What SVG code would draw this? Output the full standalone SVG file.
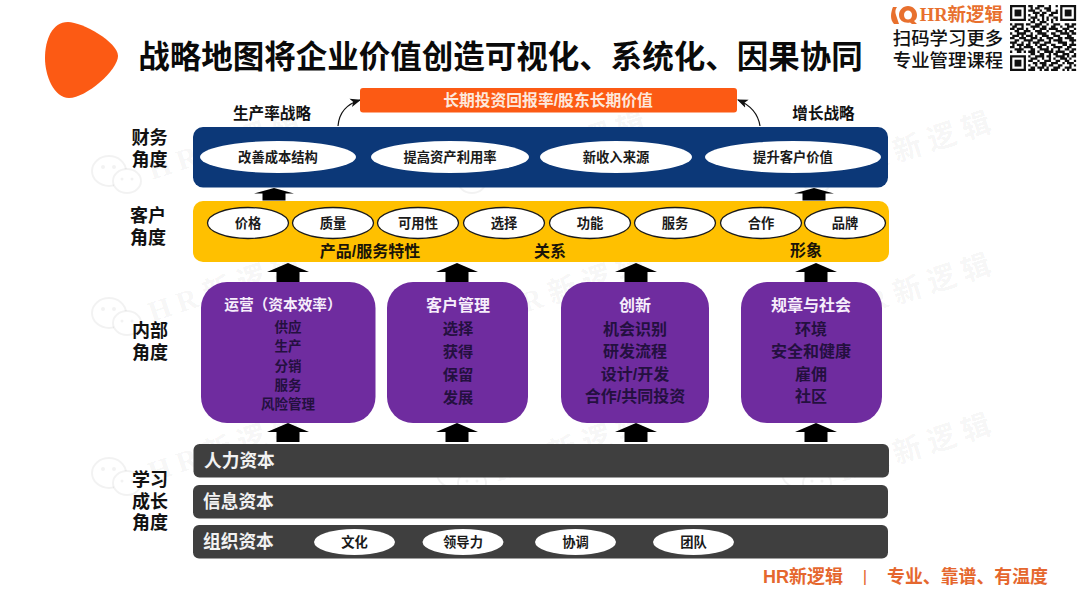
<svg xmlns="http://www.w3.org/2000/svg" xmlns:xlink="http://www.w3.org/1999/xlink" width="1080" height="608" viewBox="0 0 1080 608">
<style>
text{font-family:"Liberation Sans","Noto Sans CJK SC",sans-serif;font-weight:700;text-anchor:middle;dominant-baseline:central}
.lab{font-size:18px;fill:#111}
.pill{font-size:13.300px;fill:#1a1a1a}
.yl{font-size:16px;fill:#1a1408}
.hd{font-size:16px;fill:#f6eefb}
.r1{font-size:13.500px;fill:#24103f}
.r2{font-size:16px;fill:#24103f}
.gb{font-size:17.700px;fill:#f2f2f2;text-anchor:start}
.wm{font-family:"Liberation Serif","Noto Sans CJK SC",serif;font-size:29px;letter-spacing:7px;fill:#000;fill-opacity:.05;text-anchor:start;dominant-baseline:auto}
.pp{fill:#6f2c9f}
.gr{fill:#3f3f3f}
.we{fill:#fff;stroke:#000;stroke-opacity:.05;stroke-width:2}
.ey{fill:#000;fill-opacity:.05}
</style>
<defs>
<g id="wmk">
<ellipse class="we" cx="-43" cy="-9" rx="17" ry="15"/>
<ellipse class="we" cx="-25" cy="1" rx="14" ry="12"/>
<circle class="ey" cx="-49" cy="-13" r="2"/><circle class="ey" cx="-38" cy="-13" r="2"/><circle class="ey" cx="-30" cy="-1" r="1.500"/><circle class="ey" cx="-20" cy="-1" r="1.500"/>
<text class="wm" transform="rotate(-18)">HR新逻辑</text>
</g>
<path id="up-s" d="M0 0L20 5.500H11.500V12.500H-11.500V5.500H-20Z" fill="#000"/>
<path id="up-l" d="M0 0L21 9H11.500V19H-11.500V9H-21Z" fill="#000"/>
<marker id="ah" viewBox="0 0 10 10" refX="9" refY="5" markerWidth="9" markerHeight="9" orient="auto"><path d="M0 1L10 5L0 9L2.500 5Z" fill="#111"/></marker>
<g id="fp"><path d="M0 0h7v7h-7zM1 1v5h5v-5z" fill-rule="evenodd"/><rect x="2" y="2" width="3" height="3"/></g>
</defs>
<rect width="1080" height="608" fill="#fff"/>
<g id="watermarks">
<use xlink:href="#wmk" x="152" y="180"/><use xlink:href="#wmk" x="497" y="180"/><use xlink:href="#wmk" x="842" y="180"/>
<use xlink:href="#wmk" x="152" y="322"/><use xlink:href="#wmk" x="497" y="322"/><use xlink:href="#wmk" x="842" y="322"/>
<use xlink:href="#wmk" x="152" y="482"/><use xlink:href="#wmk" x="497" y="482"/><use xlink:href="#wmk" x="842" y="482"/>
</g>
<g id="title-block">
<path d="M68 22C82 22 118 42 118 56C118 70 86 98 69 98C54 98 45 76 45 58C45 40 52 22 68 22Z" fill="#fc5a14"/>
<text x="500.500" y="57" style="font-size:31.500px;fill:#0a0a0a">战略地图将企业价值创造可视化、系统化、因果协同</text>
</g>
<g id="header-right">
<path d="M893 7h4c-2 3-2 5-1 8 1 3 2 6 3 9h-5c-2-2-3-5-3-8s1-7 2-9zM899 15c0-5 4-9 9-9s9 4 9 9c0 3-1 5-3 6l3 3h-5l-2-1.500c-6 1-11-2-11-7.500zm5 0c0 3 2 4.500 4 4.500s4-1.500 4-4.500-2-4.500-4-4.500-4 1.500-4 4.500z" fill="#e8702e" fill-rule="evenodd"/>
<text x="961.500" y="15" style="font-family:'Liberation Serif','Noto Sans CJK SC',serif;font-size:18.500px;fill:#e8702e">HR新逻辑</text>
<text x="948" y="38" style="font-size:18.400px;fill:#111;font-weight:500">扫码学习更多</text>
<text x="948" y="60" style="font-size:18.400px;fill:#111;font-weight:500">专业管理课程</text>
<g id="qr" transform="translate(1010 5) scale(2.280)" fill="#111">
<use xlink:href="#fp"/><use xlink:href="#fp" x="22"/><use xlink:href="#fp" y="22"/>
<path stroke="#111" stroke-width="1" fill="none" d="M8 .5h2M12 .5h3M17 .5h1M20 .5h1M9 1.500h1M11 1.500h2M15 1.500h3M8 2.500h3M13 2.500h1M16 2.500h2M20 2.500h1M10 3.500h3M14 3.500h2M18 3.500h3M8 4.500h1M11 4.500h1M13 4.500h2M17 4.500h2M9 5.500h3M14 5.500h1M16 5.500h1M19 5.500h2M8 6.500h1M10 6.500h1M12 6.500h1M14 6.500h1M16 6.500h1M18 6.500h1M20 6.500h1M9 7.500h2M13 7.500h3M18 7.500h1M0 8.500h1M2 8.500h4M7 8.500h2M11 8.500h3M16 8.500h1M19 8.500h3M24 8.500h2M27 8.500h2M1 9.500h2M5 9.500h1M9 9.500h4M14 9.500h2M18 9.500h2M22 9.500h1M25 9.500h3M0 10.500h2M3 10.500h3M7 10.500h1M10 10.500h1M13 10.500h3M17 10.500h4M23 10.500h3M28 10.500h1M2 11.500h2M6 11.500h3M11 11.500h3M16 11.500h1M20 11.500h3M24 11.500h1M26 11.500h2M0 12.500h1M3 12.500h4M9 12.500h1M12 12.500h4M18 12.500h2M22 12.500h4M27 12.500h2M1 13.500h3M5 13.500h1M7 13.500h3M11 13.500h1M14 13.500h3M19 13.500h3M25 13.500h2M0 14.500h2M4 14.500h3M9 14.500h3M13 14.500h1M16 14.500h3M21 14.500h2M24 14.500h4M2 15.500h2M6 15.500h4M12 15.500h3M17 15.500h1M19 15.500h4M26 15.500h3M0 16.500h3M5 16.500h1M8 16.500h1M10 16.500h3M15 16.500h3M21 16.500h4M27 16.500h1M1 17.500h1M3 17.500h3M7 17.500h2M11 17.500h1M13 17.500h3M18 17.500h2M23 17.500h2M26 17.500h3M0 18.500h2M4 18.500h1M6 18.500h4M12 18.500h2M16 18.500h1M19 18.500h4M25 18.500h2M2 19.500h4M9 19.500h2M13 19.500h4M18 19.500h1M21 19.500h1M24 19.500h2M27 19.500h2M0 20.500h1M3 20.500h2M6 20.500h1M8 20.500h3M12 20.500h1M15 20.500h4M20 20.500h4M26 20.500h2M9 21.500h2M13 21.500h2M17 21.500h1M19 21.500h2M23 21.500h3M28 21.500h1M8 22.500h1M11 22.500h4M16 22.500h2M20 22.500h4M25 22.500h1M27 22.500h2M9 23.500h3M14 23.500h1M17 23.500h1M19 23.500h1M22 23.500h3M26 23.500h1M8 24.500h2M12 24.500h1M15 24.500h3M20 24.500h2M24 24.500h2M28 24.500h1M10 25.500h2M13 25.500h3M18 25.500h3M23 25.500h1M25 25.500h3M8 26.500h1M11 26.500h1M14 26.500h2M17 26.500h2M21 26.500h2M26 26.500h1M28 26.500h1M9 27.500h2M12 27.500h3M16 27.500h1M19 27.500h3M24 27.500h3M8 28.500h3M13 28.500h1M15 28.500h2M18 28.500h3M23 28.500h1M25 28.500h1M27 28.500h2"/>
</g>
</g>
<g id="side-labels">
<text class="lab" x="149.500" y="138">财务</text><text class="lab" x="149.500" y="160">角度</text>
<text class="lab" x="148" y="216">客户</text><text class="lab" x="148" y="238">角度</text>
<text class="lab" x="150" y="331">内部</text><text class="lab" x="150" y="353">角度</text>
<text class="lab" x="150" y="480">学习</text><text class="lab" x="150" y="502">成长</text><text class="lab" x="150" y="523">角度</text>
<text x="272" y="113" style="font-size:15.600px;fill:#111">生产率战略</text>
<text x="823.500" y="113" style="font-size:15.600px;fill:#111">增长战略</text>
</g>
<g id="connectors">
<path d="M338 126C339 113 347 104 360 100" fill="none" stroke="#111" stroke-width="1.200" marker-end="url(#ah)"/>
<path d="M760 126C758 113 750 105 738 100" fill="none" stroke="#111" stroke-width="1.200" marker-end="url(#ah)"/>
<use xlink:href="#up-s" x="274" y="188"/><use xlink:href="#up-s" x="814" y="188"/>
<use xlink:href="#up-l" x="288" y="263"/><use xlink:href="#up-l" x="457" y="263"/><use xlink:href="#up-l" x="636" y="263"/><use xlink:href="#up-l" x="816" y="263"/>
<use xlink:href="#up-l" x="288" y="423"/><use xlink:href="#up-l" x="457" y="423"/><use xlink:href="#up-l" x="636" y="423"/><use xlink:href="#up-l" x="816" y="423"/>
</g>
<g id="goal">
<rect x="360" y="88" width="377" height="24.500" rx="3" fill="#fc5a14"/>
<text x="548" y="100.500" style="font-size:15.800px;fill:#fde8dc">长期投资回报率/股东长期价值</text>
</g>
<g id="financial">
<rect x="193" y="127" width="695" height="60.500" rx="10" fill="#0c3878"/>
<ellipse cx="278" cy="157" rx="78" ry="16" fill="#fff"/><text class="pill" x="278" y="157">改善成本结构</text>
<ellipse cx="450" cy="157" rx="79" ry="16" fill="#fff"/><text class="pill" x="450" y="157">提高资产利用率</text>
<ellipse cx="616" cy="157" rx="76" ry="16" fill="#fff"/><text class="pill" x="616" y="157">新收入来源</text>
<ellipse cx="793" cy="157" rx="88" ry="16" fill="#fff"/><text class="pill" x="793" y="157">提升客户价值</text>
</g>
<g id="customer">
<rect x="193" y="201" width="696" height="61" rx="10" fill="#ffc000"/>
<g fill="#fff" stroke="#1a1a1a" stroke-width="1.300">
<ellipse cx="248" cy="223" rx="40.500" ry="15.500"/><ellipse cx="333" cy="223" rx="40.500" ry="15.500"/><ellipse cx="418" cy="223" rx="40.500" ry="15.500"/><ellipse cx="504" cy="223" rx="40.500" ry="15.500"/><ellipse cx="590" cy="223" rx="40.500" ry="15.500"/><ellipse cx="675" cy="223" rx="40.500" ry="15.500"/><ellipse cx="761" cy="223" rx="40.500" ry="15.500"/><ellipse cx="845" cy="223" rx="40.500" ry="15.500"/>
</g>
<text class="pill" x="248" y="223">价格</text><text class="pill" x="333" y="223">质量</text><text class="pill" x="418" y="223">可用性</text><text class="pill" x="504" y="223">选择</text><text class="pill" x="590" y="223">功能</text><text class="pill" x="675" y="223">服务</text><text class="pill" x="761" y="223">合作</text><text class="pill" x="845" y="223">品牌</text>
<text class="yl" x="370" y="251">产品/服务特性</text><text class="yl" x="550" y="251">关系</text><text class="yl" x="806" y="250">形象</text>
</g>
<g id="internal-ops">
<rect class="pp" x="201" y="282" width="174.500" height="141" rx="26"/>
<text class="hd" x="283" y="305" style="font-size:14.700px">运营（资本效率）</text>
<text class="r1" x="288" y="327">供应</text><text class="r1" x="288" y="346">生产</text><text class="r1" x="288" y="366">分销</text><text class="r1" x="288" y="385">服务</text><text class="r1" x="288" y="404">风险管理</text>
</g>
<g id="internal-cust">
<rect class="pp" x="387" y="282" width="141" height="141" rx="26"/>
<text class="hd" x="458" y="305">客户管理</text>
<text class="r2" x="458" y="328" style="font-size:15.300px">选择</text><text class="r2" x="458" y="351" style="font-size:15.300px">获得</text><text class="r2" x="458" y="374" style="font-size:15.300px">保留</text><text class="r2" x="458" y="397" style="font-size:15.300px">发展</text>
</g>
<g id="internal-innov">
<rect class="pp" x="561" y="282" width="148" height="141" rx="26"/>
<text class="hd" x="635" y="305">创新</text>
<text class="r2" x="635" y="329">机会识别</text><text class="r2" x="635" y="351">研发流程</text><text class="r2" x="635" y="374">设计/开发</text><text class="r2" x="635" y="396">合作/共同投资</text>
</g>
<g id="internal-reg">
<rect class="pp" x="741" y="282" width="141" height="141" rx="26"/>
<text class="hd" x="811" y="305">规章与社会</text>
<text class="r2" x="811" y="329">环境</text><text class="r2" x="811" y="351">安全和健康</text><text class="r2" x="811" y="374">雇佣</text><text class="r2" x="811" y="396">社区</text>
</g>
<g id="learning">
<rect class="gr" x="193.500" y="444" width="695.500" height="33.500" rx="6"/><text class="gb" x="204" y="461">人力资本</text>
<rect class="gr" x="193" y="485" width="695" height="33.500" rx="6"/><text class="gb" x="203" y="501.500">信息资本</text>
<rect class="gr" x="193" y="525" width="695" height="33.500" rx="6"/><text class="gb" x="203" y="541.500">组织资本</text>
<g fill="#fff"><ellipse cx="354.500" cy="542" rx="40.500" ry="13"/><ellipse cx="463" cy="542" rx="40.500" ry="13"/><ellipse cx="575.500" cy="542" rx="40.500" ry="13"/><ellipse cx="693.500" cy="542" rx="40.500" ry="13"/></g>
<text class="pill" x="354.500" y="542">文化</text><text class="pill" x="463" y="542">领导力</text><text class="pill" x="575.500" y="542">协调</text><text class="pill" x="693.500" y="542">团队</text>
</g>
<g id="footer">
<text x="803" y="577" style="font-size:18px;fill:#e5672e">HR新逻辑</text>
<text x="865" y="576" style="font-size:17px;fill:#e5672e;font-weight:400">|</text>
<text x="967.500" y="577" style="font-size:17.900px;fill:#e5672e">专业、靠谱、有温度</text>
</g>
</svg>
